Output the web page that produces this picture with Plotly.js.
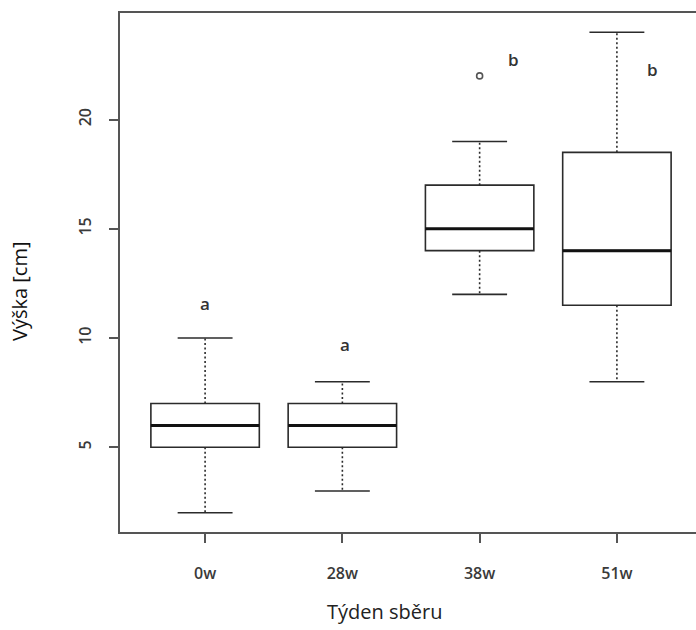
<!DOCTYPE html>
<html>
<head>
<meta charset="utf-8">
<script src="https://cdn.plot.ly/plotly-3.0.1.min.js"></script>
<style>
html,body{margin:0;padding:0;overflow:hidden;background:#fff;}
#chart{width:712px;height:630px;}
</style>
</head>
<body>
<div id="chart"></div>
<script>
// Data
const categories = ["0w", "28w", "38w", "51w"];
const positions = [1, 2, 3, 4];
const lowerWhisker = [2, 3, 12, 8];
const q1Values = [5, 5, 14, 11.5];
const medianValues = [6, 6, 15, 14];
const q3Values = [7, 7, 17, 18.5];
const upperWhisker = [10, 8, 19, 24];
const outlierX = [3];
const outlierY = [22];
const groupLetters = ["a", "a", "b", "b"];
const letterX = [1, 2.02, 3.25, 4.26];
const letterY = [11.6, 9.7, 22.75, 22.3];
const yTicks = [5, 10, 15, 20];

const boxHalf = 0.4, capHalf = 0.2;
const lineCol = '#2b2b2b';

// boxes (no whiskers; whiskers drawn dotted separately)
const boxTrace = {
  type: 'box', x: positions, q1: q1Values, median: medianValues, q3: q3Values,
  lowerfence: q1Values, upperfence: q3Values, width: 0.79,
  line: {color: lineCol, width: 1.6}, fillcolor: 'rgba(255,255,255,0)',
  boxpoints: false, hoverinfo: 'skip', showlegend: false, whiskerwidth: 0
};

// medians (thick)
const medX = [], medY = [];
positions.forEach((p, i) => { medX.push(p - 0.395, p + 0.395, null); medY.push(medianValues[i], medianValues[i], null); });
const medTrace = {type: 'scatter', mode: 'lines', x: medX, y: medY, line: {color: '#111', width: 3}, hoverinfo: 'skip', showlegend: false};

// whiskers (dotted)
const wX = [], wY = [];
positions.forEach((p, i) => {
  wX.push(p, p, null, p, p, null);
  wY.push(q1Values[i], lowerWhisker[i], null, q3Values[i], upperWhisker[i], null);
});
const whiskTrace = {type: 'scatter', mode: 'lines', x: wX, y: wY, line: {color: lineCol, width: 1.6, dash: '2px,2.5px'}, hoverinfo: 'skip', showlegend: false};

// caps
const cX = [], cY = [];
positions.forEach((p, i) => {
  cX.push(p - capHalf, p + capHalf, null, p - capHalf, p + capHalf, null);
  cY.push(lowerWhisker[i], lowerWhisker[i], null, upperWhisker[i], upperWhisker[i], null);
});
const capTrace = {type: 'scatter', mode: 'lines', x: cX, y: cY, line: {color: lineCol, width: 1.6}, hoverinfo: 'skip', showlegend: false};

const outTrace = {type: 'scatter', mode: 'markers', x: outlierX, y: outlierY,
  marker: {symbol: 'circle-open', size: 6, color: '#555', line: {width: 1.6, color: '#555'}}, showlegend: false};

const fontFam = '"Open Sans", "DejaVu Sans", sans-serif';
const annotations = groupLetters.map((t, i) => ({
  text: t, x: letterX[i], y: letterY[i], xref: 'x', yref: 'y', showarrow: false,
  font: {family: fontFam, size: 17, color: '#333', weight: 600}
}));
annotations.push({
  text: 'Týden sběru', xref: 'paper', yref: 'paper', x: 0.455, y: -0.154,
  xanchor: 'center', yanchor: 'middle', showarrow: false,
  font: {family: fontFam, size: 20, color: '#222'}
});
annotations.push({
  text: 'Výška [cm]', xref: 'paper', yref: 'paper', x: -0.1735, y: 0.4624,
  xanchor: 'center', yanchor: 'middle', textangle: -90, showarrow: false,
  font: {family: fontFam, size: 20, color: '#111'}
});

const layout = {
  width: 712, height: 630,
  margin: {l: 120, r: 10, t: 13, b: 98},
  paper_bgcolor: '#fff', plot_bgcolor: '#fff',
  showlegend: false,
  xaxis: {
    range: [0.38, 4.62], tickvals: positions, ticktext: categories,
    showgrid: false, zeroline: false, showline: true, mirror: true,
    linecolor: '#555', linewidth: 1.8, ticks: 'outside', ticklen: 9, tickwidth: 1.8, tickcolor: '#555',
    tickfont: {family: fontFam, size: 16, color: '#3a3a3a', weight: 600}, ticklabelstandoff: 17
  },
  yaxis: {
    range: [1.12, 24.88], tickvals: yTicks,
    showgrid: false, zeroline: false, showline: true, mirror: true,
    linecolor: '#555', linewidth: 1.8, ticks: 'outside', ticklen: 9, tickwidth: 1.8, tickcolor: '#555',
    tickangle: -90, tickfont: {family: fontFam, size: 16, color: '#3a3a3a', weight: 600}, ticklabelstandoff: 12
  },
  annotations: annotations
};

Plotly.newPlot('chart', [boxTrace, whiskTrace, capTrace, medTrace, outTrace], layout, {staticPlot: true, displayModeBar: false});
</script>
</body>
</html>
